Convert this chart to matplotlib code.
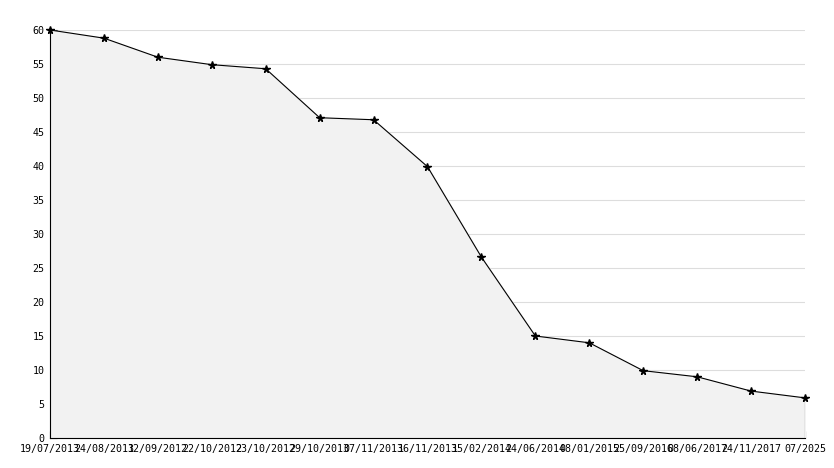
import numpy as np
from matplotlib import pyplot as plt
from matplotlib.ticker import MultipleLocator

dates = ["19/07/2013", "24/08/2013", "12/09/2012", "22/10/2012", "23/10/2012",
         "29/10/2013", "07/11/2013", "16/11/2013", "15/02/2014", "24/06/2014",
         "08/01/2015", "25/09/2016", "08/06/2017", "24/11/2017", "07/2025"]
values = [60, 58.8, 56.0, 54.9, 54.3, 47.1, 46.8, 39.9, 26.6, 15.0,
          14.0, 9.9, 9.0, 6.9, 5.9]

x = np.arange(len(dates))

fig = plt.figure(figsize=(8.34, 4.68), dpi=100)
ax = fig.add_axes([50/834, 30/468, 755/834, 408/468])

ax.fill_between(x, values, 0, color='#f2f2f2', zorder=1)
ax.plot(x, values, color='black', lw=0.8, marker='*', ms=5.5, zorder=3, clip_on=False)
ax.vlines(x[-1], 0, values[-1], color='black', lw=0.8, zorder=2)

ax.set_xlim(0, len(dates) - 1)
ax.set_ylim(0, 60)
ax.set_xticks(x)
ax.set_xticklabels(dates)
ax.yaxis.set_major_locator(MultipleLocator(5))
ax.yaxis.set_minor_locator(MultipleLocator(1))
ax.grid(axis='y', color='#dddddd', lw=0.8, zorder=0)
ax.set_axisbelow(True)

for s in ['top', 'right']:
    ax.spines[s].set_visible(False)
ax.spines['left'].set_linewidth(0.8)
ax.spines['bottom'].set_linewidth(0.8)

ax.tick_params(axis='x', direction='in', length=5, width=0.8, pad=4)
ax.tick_params(axis='y', which='major', direction='in', length=5, width=0.8, pad=4)
ax.tick_params(axis='y', which='minor', direction='in', length=3, width=0.8)
for lbl in ax.get_xticklabels() + ax.get_yticklabels():
    lbl.set_family('DejaVu Sans Mono')
    lbl.set_fontsize(7.2)

fig.savefig('out.png', dpi=100)
